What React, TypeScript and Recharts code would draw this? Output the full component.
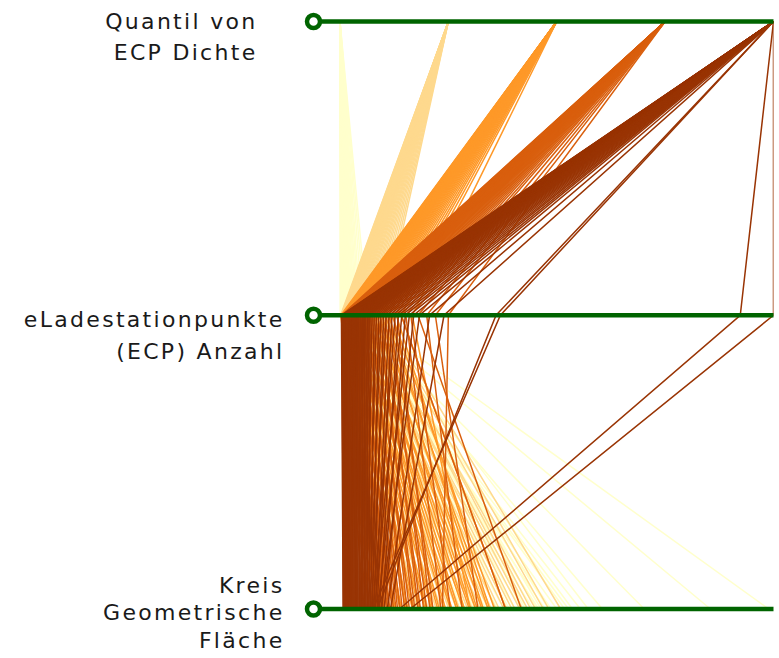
import React from 'react';
import { LineChart, Line, XAxis, YAxis, ReferenceLine, ReferenceDot } from 'recharts';

// the three parallel axes, top to bottom
const dimKeys = ['quantil', 'anzahl', 'flaeche'];
const dimLabels: Record<string, string[]> = {
  quantil: ['Quantil von', 'ECP Dichte'],
  anzahl: ['eLadestationpunkte', '(ECP) Anzahl'],
  flaeche: ['Kreis', 'Geometrische', 'Fläche'],
};

const quantiles = [1, 2, 3, 4, 5];
const quantileColors = ['#ffffcc', '#fed98e', '#fe9929', '#d95f0e', '#993404'];

// ECP count and area (km²) per Kreis, grouped by density quantile
const q1Ecp = [1, 2, 3, 4, 5, 6, 7, 8, 9, 10, 12, 14, 16, 18, 20, 22, 24, 26, 29, 32, 35, 38, 42, 46, 50, 55, 60, 66, 72, 80, 88, 96];
const q1Area = [1400, 1550, 1480, 1700, 1620, 1850, 1780, 2000, 1920, 2150, 2080, 2300, 2220, 2450, 2380, 2600, 2520, 2750, 2680, 2900, 3050, 2850, 3330, 2950, 3860, 2500, 4700, 2650, 5440, 3150, 2350, 2550];

const q2Ecp = [2, 4, 6, 8, 10, 12, 14, 16, 18, 20, 22, 24, 27, 30, 33, 36, 39, 42, 46, 50, 54, 58, 62, 67, 72, 77, 83, 89, 95, 102, 109, 117, 125, 134, 143, 152];
const q2Area = [850, 980, 920, 1080, 1020, 1180, 1120, 1280, 1220, 1380, 1320, 1480, 1420, 1580, 1520, 1680, 1620, 1780, 1720, 1880, 1820, 1980, 1920, 2080, 2020, 2180, 2120, 2280, 2220, 2380, 2320, 2480, 2420, 2580, 2650, 2800];

const q3Ecp = [3, 5, 7, 9, 11, 13, 15, 17, 19, 21, 23, 25, 28, 31, 34, 37, 40, 43, 47, 51, 55, 59, 63, 68, 73, 78, 84, 90, 96, 103, 110, 118, 126, 135, 145, 156, 168, 180, 195, 212, 250];
const q3Area = [420, 520, 470, 600, 550, 680, 630, 760, 700, 840, 780, 920, 860, 1000, 940, 1080, 1020, 1160, 1100, 1240, 1180, 1320, 1260, 1400, 1340, 1480, 1420, 1560, 1500, 1640, 1580, 1720, 1660, 1800, 1740, 1880, 1820, 1960, 1900, 2100, 1650];

const q4Ecp = [5, 8, 11, 14, 17, 20, 23, 26, 29, 32, 35, 38, 42, 46, 50, 54, 58, 62, 66, 71, 76, 81, 86, 92, 98, 104, 110, 117, 124, 131, 139, 147, 156, 165, 175, 186, 198, 212, 228, 245, 270, 300, 330, 375];
const q4Area = [300, 360, 330, 400, 370, 440, 410, 470, 450, 500, 480, 530, 510, 560, 540, 590, 570, 620, 600, 660, 630, 710, 680, 760, 730, 820, 790, 880, 850, 950, 920, 1020, 990, 1100, 1060, 1180, 1140, 2100, 1280, 1400, 2300, 1550, 1750, 1300];

const q5Ecp = [5, 7, 9, 11, 13, 15, 17, 19, 21, 23, 25, 27, 29, 31, 33, 35, 37, 39, 41, 44, 46, 49, 51, 54, 56, 59, 61, 64, 66, 70, 72, 76, 78, 82, 84, 88, 90, 95, 97, 101,
  104, 111, 118, 126, 134, 142, 151, 160, 170, 180, 191, 202, 214, 226, 240, 255, 275, 310, 360, 540, 555, 1385, 1500];
const q5Area = [40, 45, 52, 60, 70, 48, 85, 75, 95, 80, 110, 90, 125, 100, 140, 115, 150, 130, 165, 145, 180, 160, 195, 175, 210, 190, 230, 205, 250, 220, 270, 240, 290, 260, 310, 280, 330, 300, 350, 320,
  370, 340, 390, 360, 410, 380, 430, 400, 450, 470, 420, 500, 440, 530, 480, 560, 520, 600, 640, 470, 420, 755, 891];

const ecpMax = 1500;
const areaMax = 5500;
const xMin = -0.0611; // leaves room for the axis marker left of the data

const groups = [
  { q: 1, ecp: q1Ecp, area: q1Area },
  { q: 2, ecp: q2Ecp, area: q2Area },
  { q: 3, ecp: q3Ecp, area: q3Area },
  { q: 4, ecp: q4Ecp, area: q4Area },
  { q: 5, ecp: q5Ecp, area: q5Area },
];

type Rec = { q: number; ecp: number; area: number };
const records: Rec[] = [];
groups.forEach((g) => g.ecp.forEach((e, i) => records.push({ q: g.q, ecp: e, area: g.area[i] })));
// the few big cities go on top
const drawOrder = [...records.filter((r) => r.ecp < 500), ...records.filter((r) => r.ecp >= 500)];

const norm = (dim: string, r: Rec) => {
  if (dim === 'quantil') return (r.q - quantiles[0]) / (quantiles[quantiles.length - 1] - quantiles[0]);
  if (dim === 'anzahl') return r.ecp / ecpMax;
  return r.area / areaMax;
};

const rows = dimKeys.map((dim) => {
  const row: Record<string, any> = { dim };
  drawOrder.forEach((r, j) => {
    row['r' + j] = norm(dim, r);
  });
  return row;
});

const labelLayout: Record<string, { dx: number; dy: number[] }> = {
  quantil: { dx: -56, dy: [7, 38] },
  anzahl: { dx: -29, dy: [12, 44] },
  flaeche: { dx: -29, dy: [-16, 11, 39] },
};

const DimTick = (props: any) => {
  const { x, y, payload } = props;
  const lay = labelLayout[payload.value];
  return (
    <text
      x={x + lay.dx}
      y={y}
      textAnchor="end"
      fontFamily="DejaVu Sans"
      fontSize={22}
      letterSpacing={2.3}
      fill="#1a1a1a"
    >
      {dimLabels[payload.value].map((t, i) => (
        <tspan key={i} x={x + lay.dx} y={y + lay.dy[i]}>
          {t}
        </tspan>
      ))}
    </text>
  );
};

const axisGreen = '#006400';

export default function App() {
  return (
    <div style={{ position: 'absolute', left: 0, top: 0, background: '#fff' }}>
      <LineChart
        width={779}
        height={658}
        data={rows}
        layout="vertical"
        margin={{ top: 21.5, right: 5.5, bottom: 49, left: 13.5 }}
      >
        <XAxis type="number" domain={[xMin, 1]} allowDataOverflow hide />
        <YAxis
          type="category"
          dataKey="dim"
          scale="point"
          width={300}
          axisLine={false}
          tickLine={false}
          tickSize={0}
          tickMargin={0}
          tick={<DimTick />}
          interval={0}
        />
        {drawOrder.map((r, j) => (
          <Line
            key={'r' + j}
            dataKey={'r' + j}
            type="linear"
            stroke={quantileColors[r.q - 1]}
            strokeWidth={1.5}
            dot={false}
            activeDot={false}
            isAnimationActive={false}
          />
        ))}
        {dimKeys.map((d) => (
          <ReferenceLine key={'l' + d} y={d} stroke={axisGreen} strokeWidth={4.5} />
        ))}
        {dimKeys.map((d) => (
          <ReferenceDot
            key={'d' + d}
            x={xMin}
            y={d}
            r={6.5}
            fill="#fff"
            stroke={axisGreen}
            strokeWidth={4.5}
          />
        ))}
      </LineChart>
    </div>
  );
}
